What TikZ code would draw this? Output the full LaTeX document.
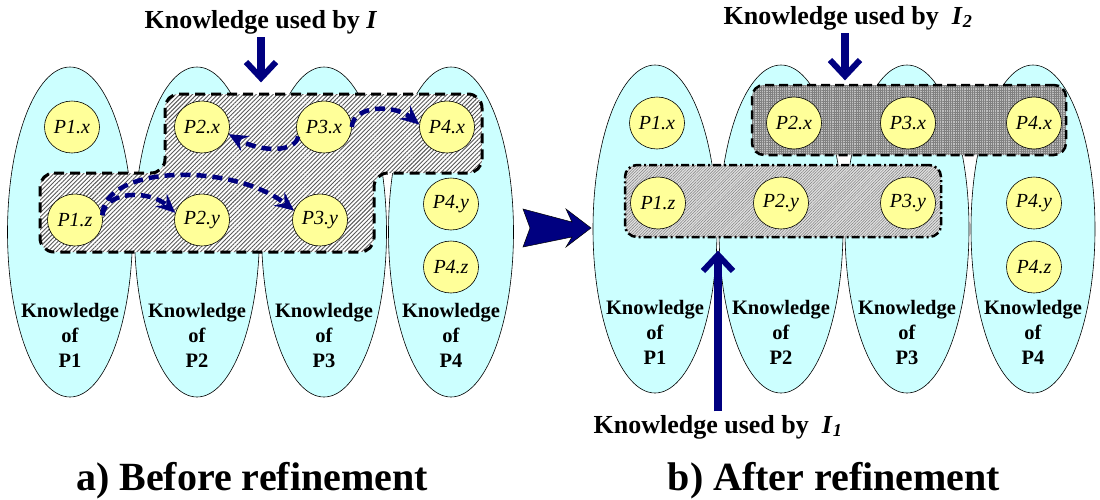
\documentclass[tikz,border=0pt]{standalone}
\usepackage{fontspec}
\setmainfont{Liberation Serif}
\usetikzlibrary{shapes.geometric,patterns.meta,arrows.meta}
\definecolor{kcyan}{HTML}{CCFFFF}
\definecolor{kyellow}{HTML}{FFFF99}
\definecolor{knavy}{HTML}{000080}
\begin{document}
\begin{tikzpicture}[x=1pt,y=-1pt,
  kell/.style={ellipse, draw=black, line width=0.6pt, fill=kcyan, minimum width=125pt, minimum height=330pt, inner sep=0pt},
  kcirc/.style={ellipse, draw=black, line width=0.6pt, fill=kyellow, minimum width=55pt, minimum height=52pt, inner sep=0pt, font=\fontsize{20}{22}\selectfont\itshape},
  klab/.style={align=center, font=\fontsize{20.5}{25}\selectfont\bfseries},
  ttl/.style={font=\fontsize{26}{30}\selectfont\bfseries, anchor=base},
  capt/.style={font=\fontsize{40}{44}\selectfont\bfseries, anchor=base},
  flow/.style={knavy, line width=4.5pt, dash pattern=on 10pt off 6pt, -{Stealth[length=19pt,width=17pt,inset=7pt]}},
  shaft/.style={knavy, line width=8pt},
  barb/.style={knavy, line width=6pt, line join=miter},
  regA/.style={draw=black, line width=3pt, dash pattern=on 10pt off 6pt, rounded corners=14pt, preaction={fill=white}, pattern={Lines[angle=45,distance=3pt,line width=0.9pt]}, pattern color=black!65},
  i2box/.style={draw=black, line width=2.5pt, dash pattern=on 9pt off 5pt, rounded corners=12pt, preaction={fill=black!25}, pattern={Hatch[distance=2.2pt,line width=0.5pt]}, pattern color=black!50, minimum width=314pt, minimum height=70pt, inner sep=0pt},
  i1box/.style={draw=black, line width=2.5pt, dash pattern=on 8pt off 3pt on 2pt off 3pt, rounded corners=12pt, preaction={fill=black!12}, pattern={Lines[angle=45,distance=2pt,line width=0.5pt]}, pattern color=black!50, minimum width=316pt, minimum height=72pt, inner sep=0pt}
]
\useasboundingbox (0,0) rectangle (1100,499);

% ---------- left panel ----------
\node[kell] (LE1) at (70,232) {};
\node[kell] (LE2) at (197,232) {};
\node[kell] (LE3) at (324,232) {};
\node[kell] (LE4) at (451,232) {};

\path[regA] (40,173) -- (165,173) -- (165,94) -- (482,94) -- (482,173) -- (374,173) -- (374,252) -- (40,252) -- cycle;
\coordinate (regtop) at (261,78);

\node[kcirc] (a1x) at (72,127) {P1.x};
\node[kcirc] (a2x) at (202,127) {P2.x};
\node[kcirc] (a3x) at (324,127) {P3.x};
\node[kcirc] (a4x) at (447,127) {P4.x};
\node[kcirc] (a1z) at (75,220) {P1.z};
\node[kcirc] (a2y) at (202,220) {P2.y};
\node[kcirc] (a3y) at (320,220) {P3.y};
\node[kcirc] (a4y) at (451,204) {P4.y};
\node[kcirc] (a4z) at (451,267) {P4.z};

\draw[flow] (a3x.200) .. controls (296,152) and (262,153) .. (a2x.-15);
\draw[flow] (a3x.east) .. controls (353,105) and (395,104) .. (a4x.175);
\draw[flow] (a1z.10) .. controls (106,190) and (150,190) .. (a2y.165);
\draw[flow] (a1z.10) .. controls (104,165) and (232,162) .. (a3y.160);

\node[klab] (LL1) at (70,335) {Knowledge\\of\\P1};
\node[klab] (LL2) at (197,335) {Knowledge\\of\\P2};
\node[klab] (LL3) at (324,335) {Knowledge\\of\\P3};
\node[klab] (LL4) at (451,335) {Knowledge\\of\\P4};

\node[ttl] (tl) at (261,28) {Knowledge used by \textit{I}};
\draw[shaft] (tl.south -| regtop) -- ([yshift=4pt]regtop);
\draw[barb] ([shift={(-15pt,16pt)}]regtop) -- (regtop) -- ([shift={(15pt,16pt)}]regtop);

\node[capt] (capA) at (252,490) {a) Before refinement};

% ---------- big arrow ----------
\filldraw[fill=knavy, draw=black, line width=0.5pt] (523,209) -- (572,222) -- (566,209) -- (591,228) -- (566,247) -- (572,237) -- (523,247) -- (530,228) -- cycle;

% ---------- right panel ----------
\node[kell, minimum width=124pt, minimum height=328pt] (RE1) at (655,229) {};
\node[kell, minimum width=124pt, minimum height=328pt] (RE2) at (781,229) {};
\node[kell, minimum width=124pt, minimum height=328pt] (RE3) at (907,229) {};
\node[kell, minimum width=124pt, minimum height=328pt] (RE4) at (1033,229) {};

\node[i2box] (I2) at (909,120) {};
\node[i1box] (I1) at (783,201) {};

\node[kcirc] (b1x) at (657,123) {P1.x};
\node[kcirc] (b2x) at (794,123) {P2.x};
\node[kcirc] (b3x) at (908,123) {P3.x};
\node[kcirc] (b4x) at (1034,123) {P4.x};
\node[kcirc] (b1z) at (658,203) {P1.z};
\node[kcirc] (b2y) at (781,203) {P2.y};
\node[kcirc] (b3y) at (908,203) {P3.y};
\node[kcirc] (b4y) at (1034,203) {P4.y};
\node[kcirc] (b4z) at (1034,267) {P4.z};

\node[klab] (RL1) at (655,332) {Knowledge\\of\\P1};
\node[klab] (RL2) at (781,332) {Knowledge\\of\\P2};
\node[klab] (RL3) at (907,332) {Knowledge\\of\\P3};
\node[klab] (RL4) at (1033,332) {Knowledge\\of\\P4};

\coordinate (tipB) at (845,76);
\node[ttl] (t2) at (848,24) {Knowledge used by~ \textit{I}\textsubscript{\textit{2}}};
\draw[shaft] (t2.south -| tipB) -- ([yshift=4pt]tipB);
\draw[barb] ([shift={(-15pt,16pt)}]tipB) -- (tipB) -- ([shift={(15pt,16pt)}]tipB);

\coordinate (tipC) at (718,255);
\node[ttl] (t1) at (718,433) {Knowledge used by~ \textit{I}\textsubscript{\textit{1}}};
\draw[shaft] (t1.north -| tipC) -- ([yshift=-4pt]tipC);
\draw[barb] ([shift={(-15pt,-16pt)}]tipC) -- (tipC) -- ([shift={(15pt,-16pt)}]tipC);

\node[capt] (capB) at (834,490) {b) After refinement};
\end{tikzpicture}
\end{document}
